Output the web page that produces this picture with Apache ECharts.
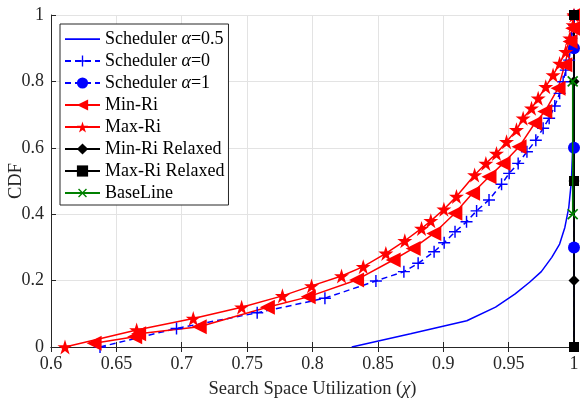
<!DOCTYPE html>
<html>
<head>
<meta charset="utf-8">
<script src="https://cdn.jsdelivr.net/npm/echarts@6/dist/echarts.min.js"></script>
<style>
body { margin: 0; background: #fff; }
#chart { width: 580px; height: 402px; }
</style>
</head>
<body>
<div id="chart"></div>
<script>
// tick labels
const xTicks = [0.6, 0.65, 0.7, 0.75, 0.8, 0.85, 0.9, 0.95, 1];
const yTicks = [0, 0.2, 0.4, 0.6, 0.8, 1];

// series values [utilization, CDF]
const schedHalf = [[0.83,0],[0.875,0.04],[0.918,0.079],[0.94,0.12],[0.955,0.16],[0.966,0.195],[0.975,0.227],[0.983,0.27],[0.989,0.31],[0.993,0.36],[0.996,0.42],[0.998,0.5],[0.999,0.6],[1,0.8],[1,1]];
const schedZero = [[0.6375,0],[0.696,0.056],[0.7577,0.103],[0.8095,0.147],[0.8485,0.199],[0.8699,0.227],[0.8808,0.252],[0.893,0.287],[0.9007,0.314],[0.909,0.347],[0.9178,0.377],[0.9255,0.41],[0.935,0.443],[0.9446,0.49],[0.9504,0.523],[0.9573,0.553],[0.964,0.588],[0.9708,0.623],[0.9764,0.659],[0.981,0.689],[0.9853,0.726],[0.989,0.764],[0.9917,0.799],[0.9937,0.834],[0.9963,0.864],[0.998,0.93],[1,0.97],[1,1]];
const schedOne = [[1,0],[1,0.3],[1,0.6],[1,0.9],[1,1]];
const minRi = [[0.633,0.011],[0.664,0.031],[0.667,0.04],[0.7134,0.061],[0.7655,0.12],[0.7967,0.151],[0.8337,0.202],[0.8617,0.262],[0.877,0.297],[0.8928,0.342],[0.9089,0.403],[0.9224,0.463],[0.935,0.513],[0.9458,0.553],[0.958,0.603],[0.97,0.674],[0.9777,0.709],[0.9878,0.779],[0.993,0.85],[0.997,0.92],[0.999,0.96],[1,1]];
const maxRi = [[0.6107,0],[0.6655,0.051],[0.7088,0.086],[0.7458,0.12],[0.777,0.154],[0.7993,0.184],[0.8222,0.214],[0.8388,0.242],[0.8561,0.282],[0.8706,0.32],[0.8834,0.357],[0.8905,0.38],[0.9005,0.415],[0.9101,0.453],[0.924,0.518],[0.9326,0.553],[0.9407,0.583],[0.9484,0.618],[0.956,0.654],[0.9611,0.689],[0.9675,0.719],[0.9726,0.749],[0.9784,0.784],[0.984,0.819],[0.989,0.854],[0.9937,0.889],[0.9968,0.93],[0.9993,0.97],[1,1]];
const minRiRelaxed = [[1,0],[1,0.2],[1,0.5],[1,0.8],[1,1]];
const maxRiRelaxed = [[1,0],[1,0.5],[1,1]];
const baseLine = [[0.999,0.4],[0.999,0.8]];
const names = ['Scheduler α=0.5', 'Scheduler α=0', 'Scheduler α=1', 'Min-Ri', 'Max-Ri', 'Min-Ri Relaxed', 'Max-Ri Relaxed', 'BaseLine'];

const serif = '"Liberation Serif", "DejaVu Serif", serif';
const star = 'path://M50,0L61.17,34.63L97.55,34.55L68.07,55.87L79.39,90.45L50,69L20.61,90.45L31.93,55.87L2.45,34.55L38.83,34.63Z';
const plus = 'path://M4.4,0H5.6V4.4H10V5.6H5.6V10H4.4V5.6H0V4.4H4.4Z';
const bar = 'path://M0,4.75H10V5.25H0Z';

function markOnly(data, skip) {
  // hide marker on points listed in skip
  return data.map((d, i) => skip.indexOf(i) >= 0 ? { value: d, symbol: 'none' } : d);
}

const chart = echarts.init(document.getElementById('chart'));
const option = {
  animation: false,
  grid: { left: 51, right: 6, top: 15, bottom: 55, outerBoundsMode: 'none' },
  legend: {
    orient: 'vertical',
    left: 60,
    top: 24,
    padding: [6, 4, 3, 4],
    itemWidth: 35,
    itemHeight: 14,
    itemGap: 4,
    borderColor: '#262626',
    borderWidth: 1,
    backgroundColor: '#fff',
    data: names.map((n, i) => i === 0 ? { name: n, icon: bar } : n),
    textStyle: {
      fontFamily: serif, fontSize: 18, color: '#000', lineHeight: 18,
      rich: { i: { fontFamily: serif, fontSize: 18, fontStyle: 'italic', color: '#000' } }
    },
    formatter: n => n.replace('α', '{i|α}')
  },
  xAxis: [{
    type: 'value', min: 0.6, max: 1, interval: 0.05,
    name: 'Search Space Utilization ({i|χ})',
    nameLocation: 'middle', nameGap: 33,
    nameTextStyle: { fontFamily: serif, fontSize: 18.5, color: '#262626',
      rich: { i: { fontFamily: serif, fontSize: 18.5, fontStyle: 'italic', color: '#262626' } } },
    axisLine: { lineStyle: { color: '#262626', width: 1 } },
    axisTick: { inside: true, length: 5, lineStyle: { color: '#262626' } },
    axisLabel: { fontFamily: serif, fontSize: 18, color: '#262626', margin: 8,
      customValues: xTicks, formatter: v => String(+v.toFixed(2)) },
    splitLine: { show: true, lineStyle: { color: '#e3e3e3', width: 1 } }
  }, {
    type: 'value', min: 0.6, max: 1, interval: 0.05, position: 'top',
    axisLine: { lineStyle: { color: '#262626', width: 1 } },
    axisTick: { inside: true, length: 5, lineStyle: { color: '#262626' } },
    axisLabel: { show: false }, splitLine: { show: false }
  }],
  yAxis: [{
    type: 'value', min: 0, max: 1, interval: 0.2,
    name: 'CDF', nameLocation: 'middle', nameGap: 25, nameMoveOverlap: false,
    nameTextStyle: { fontFamily: serif, fontSize: 18.5, color: '#262626' },
    axisLine: { show: true, lineStyle: { color: '#262626', width: 1 } },
    axisTick: { show: true, inside: true, length: 5, lineStyle: { color: '#262626' } },
    axisLabel: { fontFamily: serif, fontSize: 18, color: '#262626', margin: 7,
      customValues: yTicks, formatter: v => String(+v.toFixed(1)) },
    splitLine: { show: true, lineStyle: { color: '#e3e3e3', width: 1 } }
  }, {
    type: 'value', min: 0, max: 1, interval: 0.2, position: 'right',
    axisLine: { show: true, lineStyle: { color: '#262626', width: 1 } },
    axisTick: { show: true, inside: true, length: 5, lineStyle: { color: '#262626' } },
    axisLabel: { show: false }, splitLine: { show: false }
  }],
  series: [
    { name: names[0], type: 'line', data: schedHalf, symbol: 'none',
      lineStyle: { color: '#0000ff', width: 1.5 }, itemStyle: { color: '#0000ff' } },
    { name: names[1], type: 'line', data: schedZero, symbol: plus, symbolSize: 12,
      lineStyle: { color: '#0000ff', width: 1.5, type: [6, 4] }, itemStyle: { color: '#0000ff' } },
    { name: names[2], type: 'line', data: markOnly(schedOne, [0, 4]), symbol: 'circle', symbolSize: 12,
      lineStyle: { color: '#0000ff', width: 1.5, type: [6, 4] }, itemStyle: { color: '#0000ff' } },
    { name: names[3], type: 'line', data: minRi, symbol: 'triangle', symbolRotate: 90, symbolSize: 15,
      lineStyle: { color: '#ff0000', width: 1.5 }, itemStyle: { color: '#ff0000' } },
    { name: names[4], type: 'line', data: maxRi, symbol: star, symbolSize: 15,
      lineStyle: { color: '#ff0000', width: 1.5 }, itemStyle: { color: '#ff0000' } },
    { name: names[5], type: 'line', data: markOnly(minRiRelaxed, [0, 4]), symbol: 'diamond', symbolSize: 11,
      lineStyle: { color: '#000', width: 1.5 }, itemStyle: { color: '#000' } },
    { name: names[6], type: 'line', data: maxRiRelaxed, symbol: 'rect', symbolSize: 10,
      lineStyle: { color: '#000', width: 1.5 }, itemStyle: { color: '#000' } },
    { name: names[7], type: 'line', data: baseLine, symbol: plus, symbolRotate: 45, symbolSize: 14, z: 5,
      lineStyle: { color: '#008000', width: 1.5 }, itemStyle: { color: '#008000' } }
  ]
};
chart.setOption(option);
</script>
</body>
</html>
